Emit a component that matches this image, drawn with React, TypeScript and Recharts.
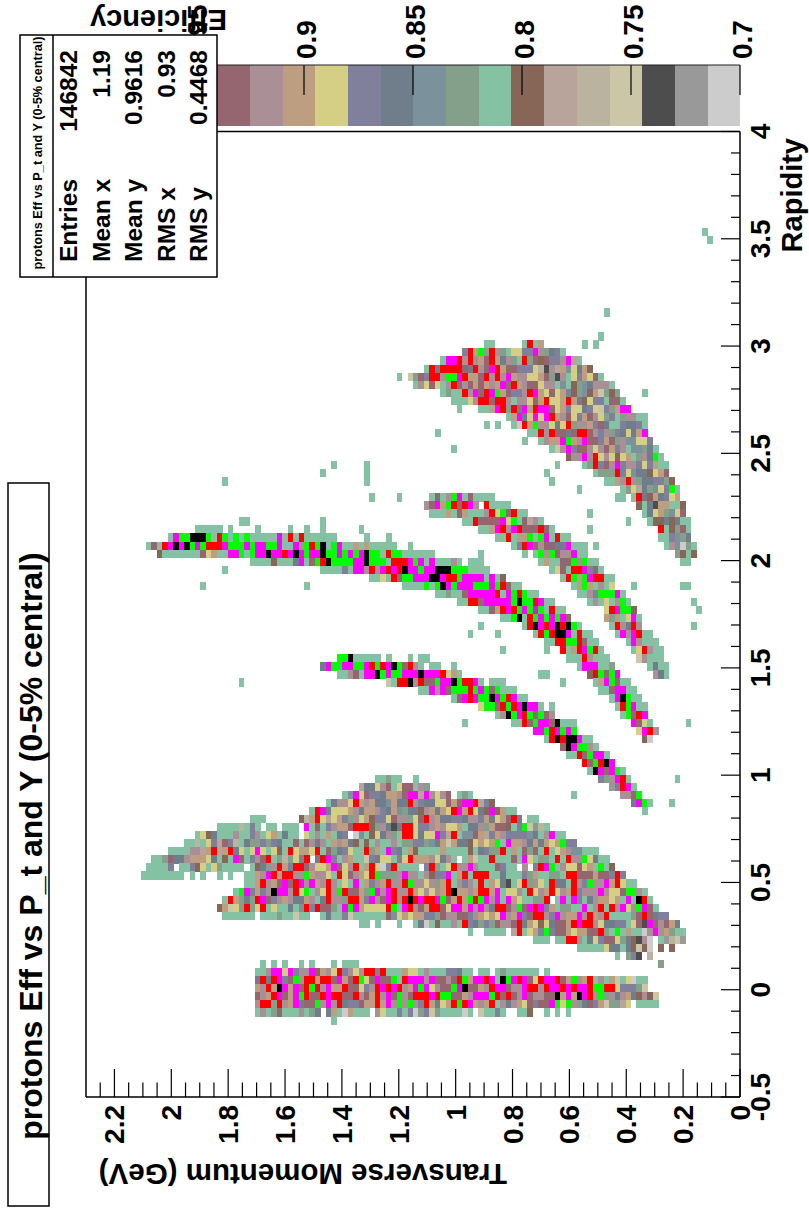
import { ReferenceLine, Scatter, ScatterChart, XAxis, YAxis } from 'recharts';

const FONT = '"Liberation Sans", Arial, sans-serif';
const CHART_W = 1218;
const CHART_H = 809;
const PLOT_W = 965.5;
const PLOT_H = 654;
const N_BINS = 120;
const BIN_W = PLOT_W / N_BINS;
const BIN_H = PLOT_H / N_BINS;

// one letter per palette step, lowest efficiency first
const levelCodes = 'abcdefghijklmnopqrsu';
const paletteColors = [
  '#cccccc', '#999999', '#4d4d4d', '#ccc6a8', '#bab3a0', '#b8a49a', '#876657', '#85c2a3', '#84a08b', '#7b919c',
  '#6f7e8a', '#807f9c', '#d4cf85', '#bd9e80', '#ab8f96', '#966670', '#ff0000', '#ff00ff', '#00ff00', '#000000',
];
const EFF_MIN = 0.7;
const EFF_STEP = 0.015;

const effTicks = [0.7, 0.75, 0.8, 0.85, 0.9, 0.95, 1];
const ptMajor = [0, 0.2, 0.4, 0.6, 0.8, 1, 1.2, 1.4, 1.6, 1.8, 2, 2.2];
const rapidityMajor = [-0.5, 0, 0.5, 1, 1.5, 2, 2.5, 3, 3.5, 4];
const ptTicks = Array.from({ length: 46 }, (_, i) => +(i * 0.05).toFixed(2));
const rapidityTicks = Array.from({ length: 46 }, (_, i) => +(-0.5 + i * 0.1).toFixed(1));

const statLabels = ['Entries', 'Mean x', 'Mean y', 'RMS x', 'RMS y'];
const statValues = ['146842', '1.19', '0.9616', '0.93', '0.4468'];

// [rapidity bin from the top, pt bin from the high end, cell levels]
const forwardCells: [number, number, string][] = [
  [12, 113, 'h'], [13, 114, 'h'], [22, 95, 'h'], [25, 94, 'h'],
  [26, 73, 'hh'], [26, 80, 'hqhn'], [26, 91, 'h'], [26, 93, 'h'],
  [27, 69, 'lqnsiqoihmmllroiklh'],
  [28, 65, 'hrrqoqonpqnkoihqipgpllorfh'],
  [29, 62, 'hqkqqqqpkqoprqnpplllmecofnjmkng'],
  [30, 57, 'h'], [30, 59, 'diplqqossrqnnpqoqornoommnpicohmlnmph'],
  [31, 60, 'hompmhoqpopnpnonrpqnoppmoohjhgijkoooh'],
  [32, 65, 'hihhqorpqrsnplloqrnmpmnlgijgndigi'], [32, 102, 'h'],
  [33, 67, 'hhhmoqqpqqohoompnqmmnqnkgmllhpph'],
  [34, 68, 'h'], [34, 72, 'hhnrqiqkrnqrrpmnlmmklmdlinrr'],
  [35, 77, 'hnrkmrmrqnopmlnpomilhioohh'],
  [36, 73, 'h'], [36, 75, 'h'], [36, 78, 'haqnsoomkmqioonlpkhhlkklh'],
  [37, 64, 'h'], [37, 81, 'hhqoqppkpqqpoloilkmknr'],
  [38, 80, 'h'], [38, 83, 'honnrsnorpplnpiojjmml'],
  [39, 67, 'h'], [39, 85, 'hdorlppomopnlohjjikh'],
  [40, 88, 'gooroqmomgmnhioksh'],
  [41, 45, 'h'], [41, 51, 'h'], [41, 86, 'h'], [41, 91, 'hiqlporloolmlnhh'],
  [42, 43, 'h'], [42, 51, 'h'], [42, 84, 'h'], [42, 93, 'hiiiqlmjkkgmnp'],
  [43, 25, 'h'], [43, 51, 'h'], [43, 85, 'h'], [43, 95, 'hhnoqoikkllig'],
  [44, 90, 'h'], [44, 98, 'himfkijmlsh'],
];

const arcCells: [number, number, string][] = [
  [45, 52, 'h'], [45, 57, 'h'], [45, 63, 'hphosrhphhhh'], [45, 97, 'hh'], [45, 100, 'hqkgnklmn'],
  [46, 62, 'oprnsqpqro'], [46, 73, 'qhhhh'], [46, 101, 'ghkcnnhhg'],
  [47, 63, 'hhhnhpnhhhoqmspqhh'], [47, 92, 'h'], [47, 102, 'hkmnijmp'],
  [48, 28, 'hh'], [48, 43, 'h'], [48, 69, 'hhqpppprmshpfoh'], [48, 99, 'h'], [48, 103, 'hggkgkhh'],
  [49, 20, 'hhhhh'], [49, 26, 'h'], [49, 31, 'h'], [49, 37, 'h'], [49, 40, 'h'], [49, 43, 'h'], [49, 50, 'h'],
  [49, 72, 'hhnrqorqpppqph'], [49, 92, 'h'], [49, 105, 'qhgiph'],
  [50, 15, 'hrssuuushqshshshhhhhrhqhqhhhhhh'], [50, 51, 'h'], [50, 55, 'h'], [50, 75, 'hhqhnnshsrhqhh'], [50, 105, 'hhljik'],
  [51, 11, 'hphqrurusrsqqqrsssrsrrssrhhrosqsuhsrhhnhnhhhhh'], [51, 59, 'h'], [51, 78, 'hlqrpoppkkrhhh'], [51, 93, 'h'], [51, 106, 'hojaih'],
  [52, 13, 'ghhhhhhhpmnhhrrshsrrurrqrursrrussrsrsrusshqsshhhhhh'], [52, 72, 'h'], [52, 80, 'h'], [52, 82, 'hsospoorhh'], [52, 108, 'ighg'],
  [53, 30, 'hhhhghhhkrhpsqussssrrussshqqqrsrhrhhhoh'], [53, 70, 'hhh'], [53, 83, 'hnhhppsoshh'], [53, 109, 'hh'],
  [54, 25, 'h'], [54, 43, 'hhhhlhrroqorqrqurrsrruuussshhhh'], [54, 85, 'hmphqqrlph'],
  [55, 52, 'hhmhqpssrrruurqqsrrrrhrhg'], [55, 87, 'hqsnsrqqhh'],
  [56, 21, 'h'], [56, 40, 'h'], [56, 58, 'hhhhshsursrrrsssrsqphh'], [56, 89, 'hnsnhohm'], [56, 100, 'h'], [56, 109, 'hh'],
  [57, 64, 'hhihhprrrrrqhrsqshh'], [57, 90, 'hholsssrh'],
  [58, 68, 'hhqqprrrrrsussqrhh'], [58, 92, 'hohmhosh'], [58, 111, 'h'],
  [59, 72, 'hhpnqrqsrsrshqhh'], [59, 95, 'mqrssg'], [59, 112, 'h'],
  [60, 76, 'hhsuhqsrsrsrp'], [60, 95, 'ninhmrh'],
  [61, 72, 'h'], [61, 80, 'hqurqruqush'], [61, 96, 'hqokqo'], [61, 111, 'h'],
  [62, 70, 'h'], [62, 75, 'h'], [62, 82, 'hqsquurhqhh'], [62, 97, 'hrorqhh'],
  [63, 84, 'hhqqssqphh'], [63, 99, 'hrohhh'],
  [64, 76, 'h'], [64, 84, 'h'], [64, 87, 'qhnqrsqh'], [64, 100, 'hmqohh'],
  [65, 46, 'ssuhhhhh'], [65, 55, 'h'], [65, 59, 'h'], [65, 61, 'hh'], [65, 88, 'hhhqohhh'], [65, 101, 'dohhh'],
  [66, 43, 'krssrrssrqsqruspqoh'], [66, 63, 'hh'], [66, 67, 'h'], [66, 90, 'hrrrhhi'], [66, 103, 'hkhh'],
  [67, 46, 'hhophrrusrssrrrurrrqmnh'], [67, 83, 'hh'], [67, 92, 'gqspsr'], [67, 104, 'okh'],
  [68, 28, 'h'], [68, 55, 'dhqquoqppsrrusqqrh'], [68, 74, 'hhh'], [68, 87, 'h'], [68, 93, 'hnrsphh'],
  [69, 61, 'hhrorpsssqsrspshhh'], [69, 94, 'hhprrhh'],
  [70, 67, 'hprqrssursqrhh'], [70, 96, 'hrushh'],
  [71, 72, 'msspqsqrurrh'], [71, 85, 'h'], [71, 97, 'hqsrhh'],
  [72, 75, 'housrqspspo'], [72, 98, 'hspqr'],
  [73, 69, 'h'], [73, 78, 'hhqpsrrpuhhh'], [73, 100, 'rpmh'], [73, 110, 'h'],
  [74, 82, 'rrsqrsrs'], [74, 101, 'mrqo'],
  [75, 84, 'hququurhh'], [75, 102, 'ga'],
  [76, 87, 'purssoh'],
  [77, 88, 'hhqpsrrh'],
  [78, 91, 'qpsqur'],
  [79, 92, 'hurprsh'],
];

const lobeCells: [number, number, string][] = [
  [80, 53, 'hhihh'], [80, 60, 'h'], [80, 94, 'liorqh'], [80, 108, 'h'],
  [81, 50, 'fkkmophmpphoi'], [81, 96, 'blqrh'],
  [82, 47, 'hjrmpllknnoprrfromop'], [82, 68, 'hih'], [82, 89, 'h'], [82, 98, 'oops'],
  [83, 44, 'hkoomqnonkkjnkkqolkkmmpnprrqflg'], [83, 100, 'krsh'], [83, 107, 'h'],
  [84, 41, 'hqrkmmmnoknnolknjikkgonknmqrnqmkgrgnhh'], [84, 102, 'h'],
  [85, 30, 'hhh'], [85, 39, 'genqmfmnliomngllmpooimpqonkkllkoolnkmnpqk'], [85, 81, 'hh'],
  [86, 24, 'hhhhehlh'], [86, 33, 'hh'], [86, 36, 'hhh'], [86, 40, 'rhphlonnpqqqgiokckqqmllonommnhkkoinppghlsdieh'],
  [87, 20, 'hmgkhhhohhlohmnhkhh'], [87, 40, 'mhohnhkl'], [87, 49, 'ajhgmkoihqqmkmmrlfqhjjpnflnolllljkhorhh'],
  [88, 18, 'hhehmlfplehkiililkhhphpokohnonkghghohhohiillijkndnkkgmnmnshrnnoknknmnsll'],
  [89, 15, 'hhhhoofnqfnqkmhmrmhmghqmnnmqhpiklmhhqinhrlkhnghhhhnhhhhghkliiqhnhpiphqhmnojjhhh'],
  [90, 12, 'hhipkkonnnmkhghrphlopqhieimlq'], [90, 42, 'kqrlhonhhdlkmmhlmqnnnomkoh'], [90, 69, 'hndhhqhhhphrmhiihqhqoosmkhh'],
  [91, 11, 'hhhhl'], [91, 17, 'hhlgmhmihhhh'], [91, 30, 'hgkioqnlqqpommnrpmoqhnqmalqhhhh'], [91, 62, 'lqihmqoorohhhplhh'], [91, 80, 'o'], [91, 82, 'lqrshommpmnhshg'],
  [92, 10, 'hhhhhhhh'], [92, 19, 'h'], [92, 21, 'h'], [92, 24, 'h'], [92, 26, 'h'],
  [92, 29, 'hhnorqnqqoosnoomhqmponmqsiiioroohogllrhnqhqqqhhkhhhlinhhiihqqpppnpplql'],
  [93, 29, 'hhnqonprpqrornoqohmhrhnlonqooqsoomoinqholohqhnmkchmqiomhqkkhqolsoornqmhh'],
  [94, 27, 'hsrlnlourroqmshomqosqppnisrorqooqnmomonqunnonqqnrhmmohqmonqmonqlooorommpssoh'],
  [95, 25, 'hqnikiqrplonokknohkqooiqqnlroprqoquqrqqrspnqnsqsrorhrnmhhiiq'], [95, 86, 'hrhrlhkonnmnhrhuqh'],
  [96, 24, 'gndmiqimqhmhhkhjqlqppihrsrnmmmmqshrqopnqqpmrrnrorokqqposprqrlnhiihhrhoqhqormosrph'],
  [97, 25, 'hhhhhh'], [97, 32, 'hhhihhdhh'], [97, 43, 'hkhhldhhhhhhpjmnmnnllipoopplonmnmronrlpqqolronnroqnoqhhhhipqpkll'],
  [98, 50, 'hh'], [98, 53, 'h'], [98, 57, 'h'], [98, 60, 'hkahghhohqlkilipoopqknmgmkppnqrqqomkkllhmpcrpopnk'],
  [99, 70, 'h'], [99, 73, 'hhhh'], [99, 78, 'fqhmnlslppnmnnppqihshnhhaoronihh'],
  [100, 82, 'hhh'], [100, 86, 'hhqqohkmlppmikgcoa'], [100, 105, 'hbedb'],
  [101, 90, 'hhhhhmkkhkgdga'], [101, 105, 'g'], [101, 107, 'g'],
  [102, 97, 'h'], [102, 99, 'ilc'], [102, 103, 'e'],
];

const midRapidityCells: [number, number, string][] = [
  [103, 32, 'h'], [103, 34, 'h'], [103, 36, 'h'], [103, 39, 'h'], [103, 41, 'h'], [103, 45, 'h'], [103, 47, 'hhh'], [103, 105, 'i'],
  [104, 31, 'hhorrmrloorgnomqlomoqqlqhhhnmmhohhhllkhh'], [104, 72, 'hh'], [104, 75, 'hihhhhhh'], [104, 84, 'h'],
  [105, 31, 'kqkqrlpsoqqnqqprnpqsmprppshqrrrorppopqsnrrqrhusrqrpmqrrqpnsonqhohndhmahh'],
  [106, 31, 'noqnurnrpqsqornnqppmloqrqrqonrsrmoppsruppnoqrrpoorqqoqrrqrqrrqssqqmlllid'],
  [107, 31, 'ponqrpnrsqppqrqqppqopnqorpsopqqqrqssppnorrrsqpqporpooppunrnurqosiokonkgogd'],
  [108, 31, 'oqqiqonrkppsoroqkllpnnqnrososolqnkmnqsqrnonqhokonmplpprsmsoikplndiifm'], [108, 101, 'hhhh'],
  [109, 31, 'hohiphhhohik'], [109, 44, 'knhanhhh'], [109, 53, 'omhhlhlaildihhhhah'], [109, 72, 'dhhlh'], [109, 79, 'hhg'], [109, 84, 'h'], [109, 86, 'h'], [109, 88, 'h'],
  [110, 45, 'h'],
];

const histogram = [...forwardCells, ...arcCells, ...lobeCells, ...midRapidityCells].flatMap(([row, start, codes]) =>
  [...codes].map((code, i) => ({
    rapidity: 4 - ((row + 0.5) * 4.5) / N_BINS,
    pt: 2.3 - ((start + i + 0.5) * 2.3) / N_BINS,
    level: levelCodes.indexOf(code),
  })),
);

const paletteStrip = paletteColors.map((_, level) => ({
  rapidity: 4,
  eff: EFF_MIN + (level + 0.5) * EFF_STEP,
  level,
}));

const HistCell = ({ cx, cy, payload }: any) => (
  <rect
    x={cx - BIN_W / 2}
    y={cy - BIN_H / 2}
    width={BIN_W + 0.3}
    height={BIN_H + 0.3}
    fill={paletteColors[payload.level]}
    shapeRendering="crispEdges"
  />
);

const PaletteCell = ({ cx, cy, payload }: any) => {
  const h = (PLOT_H * EFF_STEP) / 0.3;
  return (
    <rect
      x={cx + 5.5}
      y={cy - h / 2}
      width={61}
      height={h + 0.3}
      fill={paletteColors[payload.level]}
      shapeRendering="crispEdges"
    />
  );
};

const textStyle = { fontFamily: FONT, fontWeight: 700 as const, fill: '#000' };

const RapidityTick = ({ x, y, payload }: any) => {
  const major = rapidityMajor.includes(payload.value);
  return (
    <g>
      <line x1={x} x2={x} y1={y} y2={y - (major ? 19 : 9)} stroke="#000" strokeWidth={1.2} />
      {major && (
        <text x={x} y={y + 30} textAnchor="middle" fontSize={28} {...textStyle}>
          {payload.value}
        </text>
      )}
    </g>
  );
};

const PtTick = ({ x, y, payload }: any) => {
  const major = ptMajor.includes(payload.value);
  return (
    <g>
      <line x1={x} x2={x + (major ? 28 : 14.5)} y1={y} y2={y} stroke="#000" strokeWidth={1.2} />
      {major && (
        <text x={x - 8} y={y + 10} textAnchor="end" fontSize={28} {...textStyle}>
          {payload.value}
        </text>
      )}
    </g>
  );
};

const EffTick = ({ x, y, payload }: any) => (
  <g>
    <line x1={x + 36.5} x2={x + 66.5} y1={y} y2={y} stroke="#000" strokeWidth={1.2} />
    <text x={x + 72.5} y={y + 12} textAnchor="start" fontSize={28} {...textStyle}>
      {payload.value}
    </text>
  </g>
);

const TITLE = 'protons Eff vs P_t and Y (0-5% central)';

const Overlay = () => (
  <svg width={CHART_W} height={CHART_H} style={{ position: 'absolute', left: 0, top: 0 }}>
    <line x1={1153} x2={1153} y1={86} y2={740} stroke="#222" strokeWidth={1.2} />
    <text x={1080} y={802} textAnchor="end" fontSize={29} {...textStyle}>Rapidity</text>
    <text transform="rotate(-90 54 507)" x={54} y={507} fontSize={29.5} {...textStyle}>Transverse Momentum (GeV)</text>
    <text transform="rotate(-90 1208 227)" x={1208} y={227} fontSize={29} {...textStyle}>Efficiency</text>

    <rect x={12} y={8} width={723} height={41} fill="#fff" stroke="#000" strokeWidth={1.5} />
    <text x={372} y={42} textAnchor="middle" fontSize={32} {...textStyle}>{TITLE}</text>

    <rect x={941} y={20} width={242} height={197} fill="#fff" stroke="#000" strokeWidth={1.5} />
    <line x1={941} x2={1183} y1={53} y2={53} stroke="#000" strokeWidth={1.5} />
    <text x={1065} y={42} textAnchor="middle" fontSize={12.7} {...textStyle}>{TITLE}</text>
    {statLabels.map((label, i) => (
      <g key={label}>
        <text x={956} y={77 + i * 32.5} fontSize={24.5} {...textStyle}>{label}</text>
        <text x={1168} y={77 + i * 32.5} textAnchor="end" fontSize={24.5} {...textStyle}>{statValues[i]}</text>
      </g>
    ))}
  </svg>
);

export default function App() {
  return (
    <div style={{ position: 'absolute', left: 0, top: 0, width: 809, height: 1218, overflow: 'hidden', background: '#fff' }}>
      <div
        style={{
          position: 'absolute',
          left: 0,
          top: 1218,
          width: CHART_W,
          height: CHART_H,
          transformOrigin: '0 0',
          transform: 'rotate(-90deg)',
        }}
      >
        <ScatterChart width={CHART_W} height={CHART_H} margin={{ top: 86, right: 0, bottom: 0, left: 0 }}>
          <XAxis
            dataKey="rapidity"
            type="number"
            domain={[-0.5, 4]}
            ticks={rapidityTicks}
            interval={0}
            height={69}
            tickSize={0}
            tickMargin={0}
            tickLine={false}
            axisLine={{ stroke: '#000', strokeWidth: 1.5 }}
            tick={<RapidityTick />}
          />
          <YAxis
            dataKey="pt"
            type="number"
            domain={[0, 2.3]}
            ticks={ptTicks}
            interval={0}
            width={121}
            tickSize={0}
            tickMargin={0}
            tickLine={false}
            axisLine={{ stroke: '#000', strokeWidth: 1.5 }}
            tick={<PtTick />}
          />
          <YAxis
            yAxisId="eff"
            orientation="right"
            dataKey="eff"
            type="number"
            domain={[EFF_MIN, 1]}
            ticks={effTicks}
            interval={0}
            width={131.5}
            tickSize={0}
            tickMargin={0}
            tickLine={false}
            axisLine={false}
            tick={<EffTick />}
          />
          <ReferenceLine x={4} stroke="#000" strokeWidth={1.5} />
          <ReferenceLine y={2.3} stroke="#000" strokeWidth={1.5} />
          <Scatter data={histogram} dataKey="pt" shape={<HistCell />} isAnimationActive={false} />
          <Scatter yAxisId="eff" data={paletteStrip} dataKey="eff" shape={<PaletteCell />} isAnimationActive={false} />
        </ScatterChart>
        <Overlay />
      </div>
    </div>
  );
}
